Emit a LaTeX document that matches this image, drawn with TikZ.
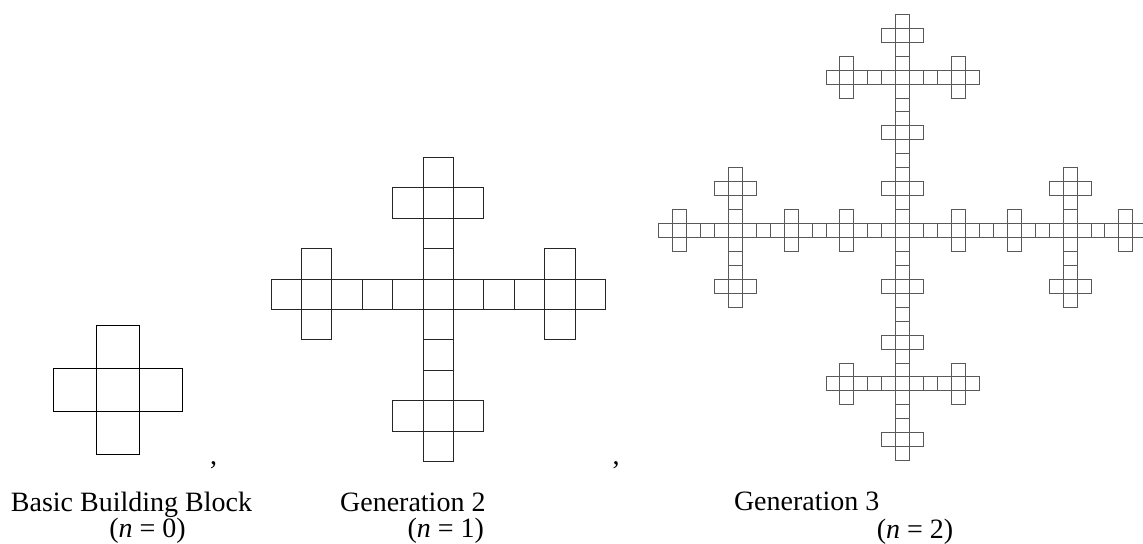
\documentclass[tikz,border=0pt]{standalone}
\usepackage{fontspec}
\setmainfont{Liberation Serif}
\newcommand\GenTwo{%
  \foreach \i in {-5,...,5} {\draw (\i-0.5,-0.5) rectangle ++(1,1);}
  \foreach \j in {-5,-4,-3,-2,-1,1,2,3,4} {\draw (-0.5,\j-0.5) rectangle ++(1,1);}
  \foreach \p in {(-4,1),(-4,-1),(4,1),(4,-1),(-1,3),(1,3),(-1,-4),(1,-4)} {\draw \p ++(-0.5,-0.5) rectangle ++(1,1);}%
}
\tikzset{
  genone/.style={line width=0.9pt, draw=black},
  gentwo/.style={line width=0.7pt, draw=black!85},
  genthree/.style={line width=0.55pt, draw=black!65},
  lbl/.style={anchor=base, inner sep=0pt, font=\fontsize{21}{25}\selectfont}
}
\begin{document}
\begin{tikzpicture}[x=0.75pt,y=-0.75pt]
\useasboundingbox (0,0) rectangle (1143,543);
% Generation 1 (n=0)
\begin{scope}[shift={(118,390.3)}, x=32.25pt, y=32.25pt, genone]
  \foreach \p in {(0,0),(-1,0),(1,0),(0,1),(0,-1)} {\draw[genone] \p ++(-0.5,-0.5) rectangle ++(1,1);}
\end{scope}
% Generation 2 (n=1)
\begin{scope}[shift={(438.2,294.3)}, x=22.8pt, y=22.8pt, every path/.style={gentwo}]
  \GenTwo
\end{scope}
% Generation 3 (n=2)
\begin{scope}[shift={(902.6,230.4)}, x=10.46pt, y=10.46pt, every path/.style={genthree}]
  \GenTwo
  \begin{scope}[shift={(-12,0)}]\GenTwo\end{scope}
  \begin{scope}[shift={(12,0)}]\GenTwo\end{scope}
  \begin{scope}[shift={(0,11)}]\GenTwo\end{scope}
  \begin{scope}[shift={(0,-11)}]\GenTwo\end{scope}
  \foreach \p in {(-6,0),(6,0),(0,5),(0,-6)} {\draw \p ++(-0.5,-0.5) rectangle ++(1,1);}
\end{scope}
% labels
\node[lbl] (t1) at (131.5,511.5) {Basic Building Block};
\node[lbl] (n1) at (147.5,537.5) {(\textit{n} = 0)};
\node[lbl] (t2) at (412.8,511) {Generation 2};
\node[lbl] (n2) at (445.8,537.5) {(\textit{n} = 1)};
\node[lbl] (t3) at (806.7,510) {Generation 3};
\node[lbl] (n3) at (915,538) {(\textit{n} = 2)};
\node[lbl] (c1) at (213.5,464) {,};
\node[lbl] (c2) at (616,464) {,};
\end{tikzpicture}
\end{document}
